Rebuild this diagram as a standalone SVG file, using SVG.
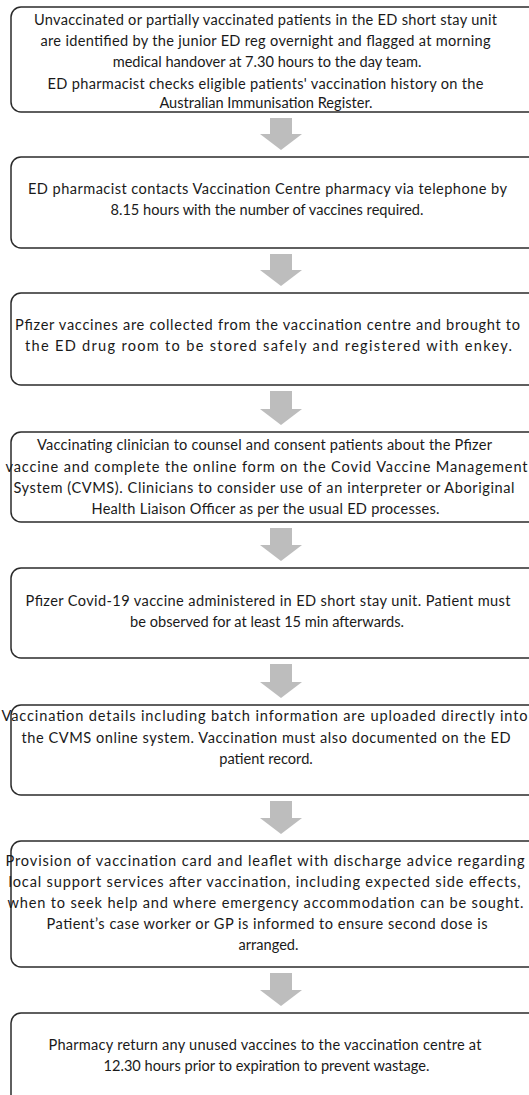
<svg xmlns="http://www.w3.org/2000/svg" width="529" height="1095" viewBox="0 0 529 1095">
<style>
.box{fill:#ffffff;stroke:#2b2b2b;stroke-width:1.5}
.arr{fill:#bdbdbd}
text{font-family:Lato,"Open Sans",sans-serif;font-size:14.6px;fill:#1a1a1a;text-anchor:middle}
</style>
<rect width="529" height="1095" fill="#ffffff"/>
<g id="connectors">
<path class="arr" d="M270,118 H292 V134 H302 L281,150 L260,134 H270 Z"/>
<path class="arr" d="M270,254 H292 V270 H302 L281,286 L260,270 H270 Z"/>
<path class="arr" d="M270,391 H292 V409 H302 L281,425 L260,409 H270 Z"/>
<path class="arr" d="M270,528 H292 V545 H302 L281,561 L260,545 H270 Z"/>
<path class="arr" d="M270,664 H292 V682 H302 L281,698 L260,682 H270 Z"/>
<path class="arr" d="M270,801 H292 V818 H302 L281,834 L260,818 H270 Z"/>
<path class="arr" d="M270,973 H292 V990 H302 L281,1006 L260,990 H270 Z"/>
</g>
<g id="n1">
<rect class="box" x="11" y="7" width="535" height="105" rx="10"/>
<text x="265.5" y="25" textLength="463" lengthAdjust="spacing">Unvaccinated or partially vaccinated patients in the ED short stay unit</text>
<text x="265.5" y="46" textLength="450" lengthAdjust="spacing">are identified by the junior ED reg overnight and flagged at morning</text>
<text x="267" y="67">medical handover at 7.30 hours to the day team.</text>
<text x="265.5" y="89" textLength="436" lengthAdjust="spacing">ED pharmacist checks eligible patients' vaccination history on the</text>
<text x="266" y="108">Australian Immunisation Register.</text>
</g>
<g id="n2">
<rect class="box" x="11" y="157" width="535" height="91" rx="10"/>
<text x="267.5" y="194" textLength="479" lengthAdjust="spacing">ED pharmacist contacts Vaccination Centre pharmacy via telephone by</text>
<text x="267" y="215">8.15 hours with the number of vaccines required.</text>
</g>
<g id="n3">
<rect class="box" x="11" y="293" width="535" height="92" rx="10"/>
<text x="267.5" y="330" textLength="505" lengthAdjust="spacing">Pfizer vaccines are collected from the vaccination centre and brought to</text>
<text x="268.5" y="351" textLength="487" lengthAdjust="spacing">the ED drug room to be stored safely and registered with enkey.</text>
</g>
<g id="n4">
<rect class="box" x="11" y="432" width="535" height="90" rx="10"/>
<text x="264.5" y="450" textLength="455" lengthAdjust="spacing">Vaccinating clinician to counsel and consent patients about the Pfizer</text>
<text x="266.5" y="472" textLength="522" lengthAdjust="spacing">vaccine and complete the online form on the Covid Vaccine Management</text>
<text x="264" y="493" textLength="501" lengthAdjust="spacing">System (CVMS). Clinicians to consider use of an interpreter or Aboriginal</text>
<text x="265.5" y="514" textLength="348" lengthAdjust="spacing">Health Liaison Officer as per the usual ED processes.</text>
</g>
<g id="n5">
<rect class="box" x="11" y="568" width="535" height="90" rx="10"/>
<text x="268" y="606" textLength="485" lengthAdjust="spacing">Pfizer Covid-19 vaccine administered in ED short stay unit. Patient must</text>
<text x="267" y="627">be observed for at least 15 min afterwards.</text>
</g>
<g id="n6">
<rect class="box" x="11" y="705" width="535" height="90" rx="10"/>
<text x="264.5" y="721" textLength="526" lengthAdjust="spacing">Vaccination details including batch information are uploaded directly into</text>
<text x="266" y="743" textLength="489" lengthAdjust="spacing">the CVMS online system. Vaccination must also documented on the ED</text>
<text x="266" y="764">patient record.</text>
</g>
<g id="n7">
<rect class="box" x="11" y="841" width="535" height="126" rx="10"/>
<text x="265" y="866" textLength="519" lengthAdjust="spacing">Provision of vaccination card and leaflet with discharge advice regarding</text>
<text x="264.5" y="887" textLength="512" lengthAdjust="spacing">local support services after vaccination, including expected side effects,</text>
<text x="265.5" y="908" textLength="516" lengthAdjust="spacing">when to seek help and where emergency accommodation can be sought.</text>
<text x="267" y="929" textLength="441" lengthAdjust="spacing">Patient’s case worker or GP is informed to ensure second dose is</text>
<text x="268.5" y="950">arranged.</text>
</g>
<g id="n8">
<rect class="box" x="11" y="1013" width="535" height="100" rx="10"/>
<text x="265" y="1050" textLength="433" lengthAdjust="spacing">Pharmacy return any unused vaccines to the vaccination centre at</text>
<text x="266.5" y="1071">12.30 hours prior to expiration to prevent wastage.</text>
</g>
</svg>
